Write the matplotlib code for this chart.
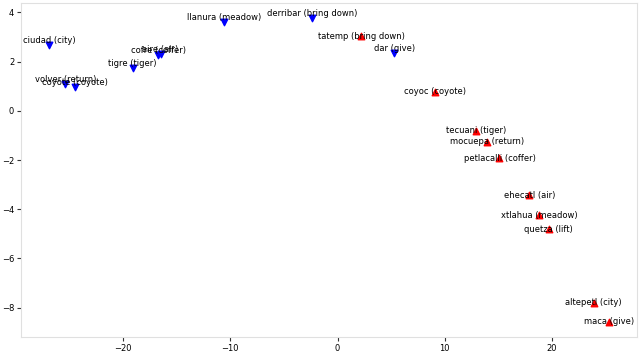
import numpy as np
import matplotlib
matplotlib.use("Agg")
import matplotlib.pyplot as plt

# spanish words (blue, triangle down)
es_labels = ["ciudad (city)", "llanura (meadow)", "derribar (bring down)", "dar (give)",
             "tigre (tiger)", "cofre (coffer)", "aire (air)", "volver (return)", "coyote (coyote)"]
es_x = [-26.9, -10.6, -2.4, 5.3, -19.1, -16.7, -16.5, -25.4, -24.5]
es_y = [2.67, 3.60, 3.76, 2.34, 1.75, 2.25, 2.33, 1.10, 0.98]

# nahuatl words (red, triangle up)
na_labels = ["tatemp (bring down)", "coyoc (coyote)", "tecuani (tiger)", "mocuepa (return)",
             "petlacalli (coffer)", "ehecatl (air)", "xtlahua (meadow)", "quetza (lift)",
             "altepetl (city)", "maca (give)"]
na_x = [2.2, 9.1, 12.9, 13.9, 15.1, 17.9, 18.8, 19.7, 23.9, 25.3]
na_y = [3.03, 0.78, -0.80, -1.25, -1.93, -3.43, -4.24, -4.82, -7.80, -8.57]

fig, ax = plt.subplots(figsize=(6.4, 3.52), dpi=100)
fig.subplots_adjust(left=0.033, right=0.995, bottom=0.043, top=0.991)

ax.scatter(es_x, es_y, marker="v", color="blue", s=22, zorder=3)
ax.scatter(na_x, na_y, marker="^", color="red", s=22, zorder=3)

for lab, x, y in zip(es_labels, es_x, es_y):
    ax.text(x, y, lab, ha="center", va="bottom", fontsize=6)
for lab, x, y in zip(na_labels, na_x, na_y):
    ax.text(x, y, lab, ha="center", va="center", fontsize=6)

for sp in ax.spines.values():
    sp.set_color("#e0e0e0")
ax.tick_params(labelsize=6, length=3, color="#333333", pad=2)

plt.savefig("out.png", dpi=100)
